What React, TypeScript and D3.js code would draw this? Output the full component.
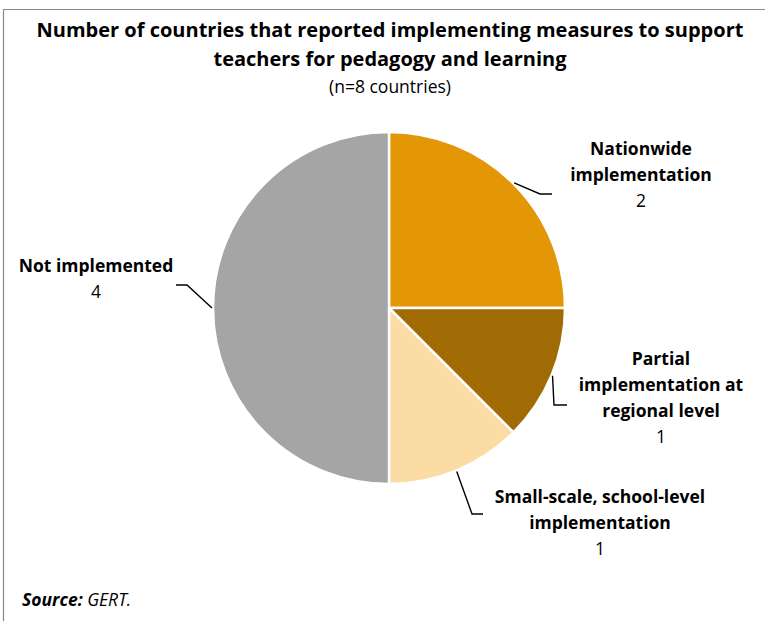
import React from "react";
import * as d3 from "d3";

const categories = [
  "Nationwide implementation",
  "Partial implementation at regional level",
  "Small-scale, school-level implementation",
  "Not implemented",
];
const values = [2, 1, 1, 4];
const labelLines = [
  ["Nationwide", "implementation"],
  ["Partial", "implementation at", "regional level"],
  ["Small-scale, school-level", "implementation"],
  ["Not implemented"],
];
const colors = ["#E39606", "#A06A04", "#FBDCA4", "#A5A5A5"];

const W = 765;
const H = 621;
const cx = 389;
const cy = 308;
const R = 176;
const FONT = "'Open Sans', Lato, sans-serif";

// label layout: text center x, first baseline y, leader elbow + end
const layout = [
  { tx: 641, ty: 155, elbow: [540, 194], end: [552, 194] },
  { tx: 661, ty: 365, elbow: [554, 405], end: [567, 405] },
  { tx: 600, ty: 503, elbow: [472, 514], end: [483, 514] },
  { tx: 96, ty: 272, elbow: [187, 285], end: [176, 285] },
];

export default function App() {
  const pie = d3
    .pie<number>()
    .sort(null)
    .value((d) => d)
    .startAngle(0)
    .endAngle(2 * Math.PI);
  const arcs = pie(values);
  const arcGen = d3.arc<d3.PieArcDatum<number>>().innerRadius(0).outerRadius(R);
  const lineGen = d3.line();
  const LH = 26;

  return (
    <svg width={W} height={H} style={{ position: "absolute", left: 0, top: 0, background: "#fff" }}>
      <rect x={0} y={0} width={W} height={H} fill="#fff" />
      <path d={`M3.5,${H} L3.5,9.5 L${W},9.5`} fill="none" stroke="#8a8a8a" strokeWidth={1.2} />
      <text x={390} y={37} textAnchor="middle" fontFamily={FONT} fontWeight={700} fontSize={20} fill="#000">
        Number of countries that reported implementing measures to support
      </text>
      <text x={390} y={66} textAnchor="middle" fontFamily={FONT} fontWeight={700} fontSize={20} fill="#000">
        teachers for pedagogy and learning
      </text>
      <text x={390} y={93} textAnchor="middle" fontFamily={FONT} fontSize={17.5} fill="#000">
        (n=8 countries)
      </text>
      <g transform={`translate(${cx},${cy})`}>
        {arcs.map((a, i) => (
          <path key={categories[i]} d={arcGen(a) || ""} fill={colors[i]} stroke="#fff" strokeWidth={2.5} strokeLinejoin="miter" />
        ))}
      </g>
      {arcs.map((a, i) => {
        const mid = (a.startAngle + a.endAngle) / 2;
        const sx = cx + (R + 1) * Math.sin(mid);
        const sy = cy - (R + 1) * Math.cos(mid);
        const L = layout[i];
        return (
          <g key={"lab" + i}>
            <path
              d={lineGen([[sx, sy], L.elbow as [number, number], L.end as [number, number]]) || ""}
              fill="none"
              stroke="#000"
              strokeWidth={1.4}
            />
            <text textAnchor="middle" fontFamily={FONT} fontSize={17.5} fill="#000">
              {labelLines[i].map((ln, j) => (
                <tspan key={j} x={L.tx} y={L.ty + j * LH} fontWeight={700}>
                  {ln}
                </tspan>
              ))}
              <tspan x={L.tx} y={L.ty + labelLines[i].length * LH}>
                {values[i]}
              </tspan>
            </text>
          </g>
        );
      })}
      <text x={22} y={606} fontFamily={FONT} fontSize={17.5} fontStyle="italic" fill="#000">
        <tspan fontWeight={700}>Source:</tspan> GERT.
      </text>
    </svg>
  );
}
